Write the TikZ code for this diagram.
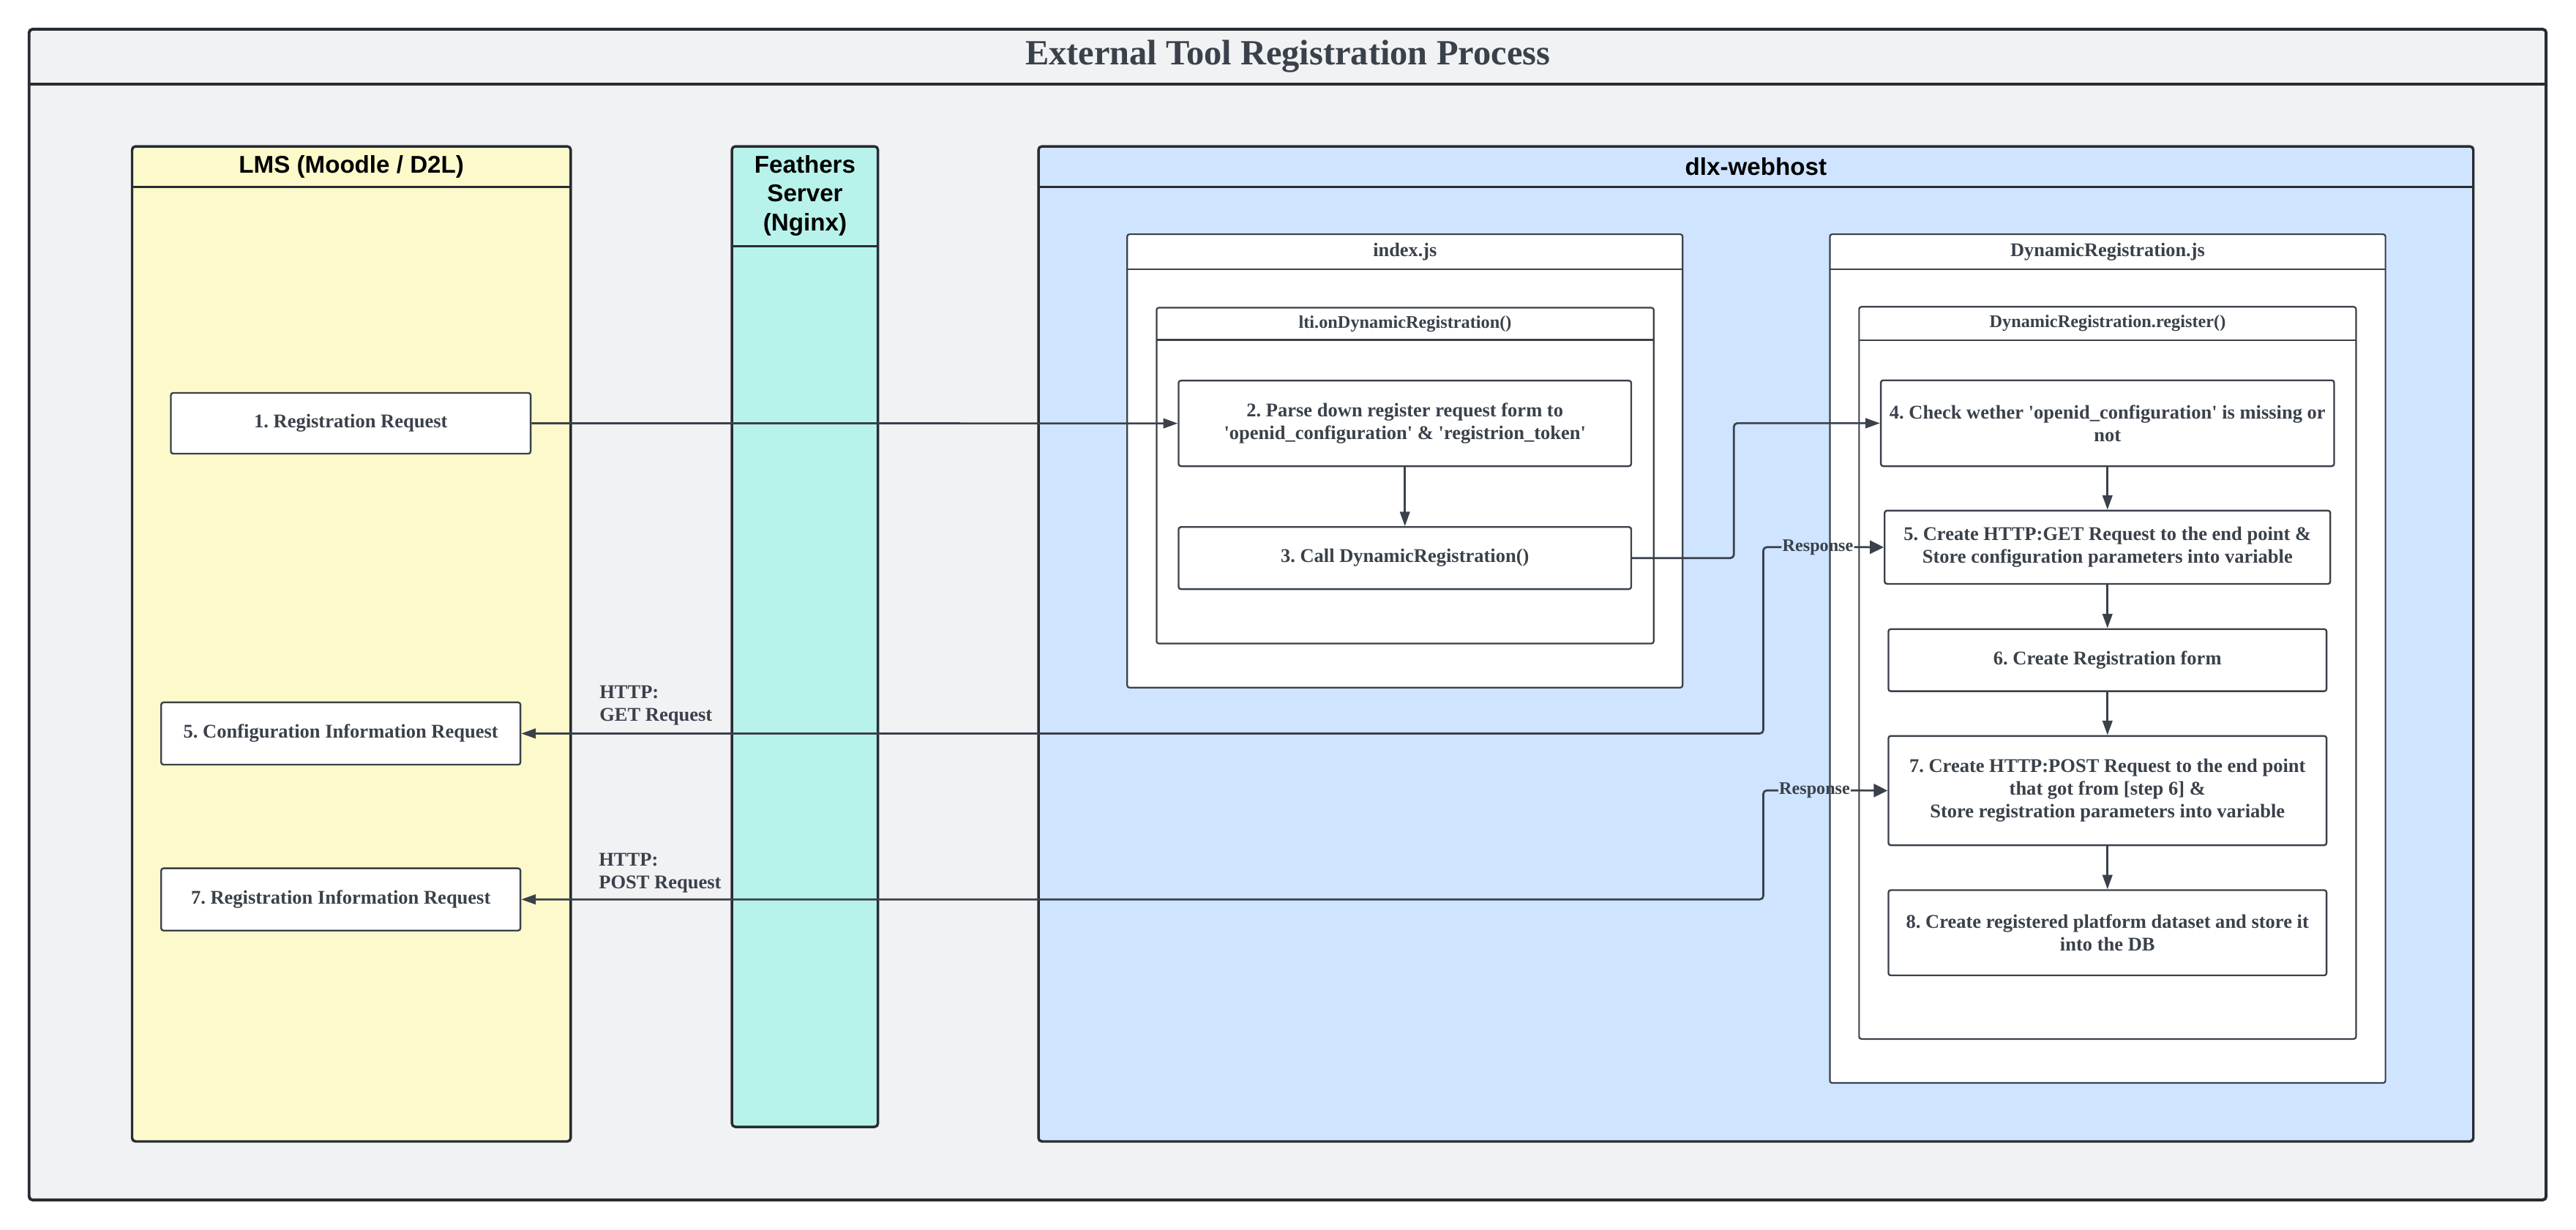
\documentclass[tikz,border=0pt]{standalone}
\usepackage{fontspec}
\setmainfont{Liberation Serif}[Ligatures=TeXOff]
\newfontfamily\lanefont{Liberation Sans}
\usetikzlibrary{arrows.meta, positioning}

\definecolor{edge}{HTML}{3A414A}
\definecolor{frameedge}{HTML}{282C33}
\definecolor{canvas}{HTML}{F1F2F4}
\definecolor{lmsfill}{HTML}{FCFACA}
\definecolor{nginxfill}{HTML}{B8F3EB}
\definecolor{hostfill}{HTML}{CFE4FF}

\begin{document}
\frenchspacing
\begin{tikzpicture}[
    x=0.05cm, y=0.05cm,
    frame/.style={draw=frameedge, line width=2.5pt, rounded corners=3pt},
    lane/.style={draw=frameedge, line width=2.2pt, rounded corners=3pt},
    file/.style={draw=edge, fill=white, line width=1.4pt, rounded corners=2pt},
    divider/.style={draw=edge, line width=1.4pt},
    lanetitle/.style={font=\lanefont\bfseries\fontsize{21}{25}\selectfont, align=center, text=black},
    filetitle/.style={font=\bfseries\fontsize{16.7}{20}\selectfont, text=edge},
    functitle/.style={font=\bfseries\fontsize{15.4}{19}\selectfont, text=edge},
    box/.style={
        rectangle,
        draw=edge,
        fill=white,
        rounded corners=2pt,
        line width=1.5pt,
        align=center,
        inner sep=0pt,
        text=edge,
        font=\bfseries\fontsize{16.8}{19.6}\selectfont
    },
    httplabel/.style={align=left, inner sep=0pt, text=edge, font=\bfseries\fontsize{16.8}{20}\selectfont},
    response/.style={inner sep=0.6pt, text=edge, font=\bfseries\fontsize{15.3}{19}\selectfont},
    arrow/.style={-{Triangle[length=12.5pt, width=8.5pt]}, draw=edge, line width=1.7pt, rounded corners=3pt},
    resparrow/.style={-{Triangle[length=12pt, width=11.5pt]}, draw=edge, line width=1.7pt}
]

\useasboundingbox (0,0) rectangle (1568,-748.4);

% outer frame
\draw[frame, fill=canvas] (17.7,-17.8) rectangle (1549.8,-730.5);
\draw[frame] (17.7,-51.2) -- (1549.8,-51.2);
\node[font=\bfseries\fontsize{30.7}{36}\selectfont, text=edge] (title) at (783.8,-34.3) {External Tool Registration Process};

% lanes
\draw[lane, fill=lmsfill] (80.4,-89.1) rectangle (347.4,-694.9);
\draw[lane] (80.4,-113.9) -- (347.4,-113.9);
\node[lanetitle] (lms) at (213.9,-101.5) {LMS (Moodle / D2L)};

\draw[lane, fill=nginxfill] (445.5,-89.1) rectangle (534.4,-686);
\draw[lane] (445.5,-150) -- (534.4,-150);
\node[lanetitle] (nginx) at (490,-119) {Feathers\\Server\\(Nginx)};

\draw[lane, fill=hostfill] (632.1,-89.1) rectangle (1505.5,-694.9);
\draw[lane] (632.1,-113.9) -- (1505.5,-113.9);
\node[lanetitle] (host) at (1068.8,-101.5) {dlx-webhost};

% files
\draw[file] (686.1,-142.6) rectangle (1024.2,-418.6);
\draw[divider] (686.1,-163.9) -- (1024.2,-163.9);
\node[filetitle] (indexjs) at (855.2,-153.3) {index.js};
\draw[file] (704,-187.3) rectangle (1006.6,-391.8);
\draw[divider] (704,-206.9) -- (1006.6,-206.9);
\node[functitle] (onreg) at (855.3,-197.1) {lti.onDynamicRegistration()};

\draw[file] (1113.8,-142.6) rectangle (1452,-659.3);
\draw[divider] (1113.8,-163.9) -- (1452,-163.9);
\node[filetitle] (dynjs) at (1282.9,-153.3) {DynamicRegistration.js};
\draw[file] (1131.6,-186.8) rectangle (1434.1,-632.5);
\draw[divider] (1131.6,-207) -- (1434.1,-207);
\node[functitle] (register) at (1282.9,-196.9) {DynamicRegistration.register()};

% LMS requests
\node[box, minimum width=10.95cm, minimum height=1.85cm] (reg) at (213.5,-257.7) {1. Registration Request};
\node[box, minimum width=10.935cm, minimum height=1.895cm] (cfgreq) at (207.45,-446.55) {5. Configuration Information Request};
\node[box, minimum width=10.935cm, minimum height=1.895cm] (regreq) at (207.45,-547.55) {7. Registration Information Request};

% index.js steps
\node[box, minimum width=13.775cm, minimum height=2.605cm] (parse) at (855.15,-257.75) {2. Parse down register request form to\\'openid\_configuration' \& 'registrion\_token'};
\node[box, below=1.8cm of parse, minimum width=13.775cm, minimum height=1.89cm] (call) {3. Call DynamicRegistration()};

% DynamicRegistration.js steps
\node[box, minimum width=13.795cm, minimum height=2.615cm] (check) at (1282.8,-257.65) {4. Check wether 'openid\_configuration' is missing or\\not};
\node[box, below=1.3cm of check, minimum width=13.565cm, minimum height=2.23cm] (getcfg) {5. Create HTTP:GET Request to the end point \&\\Store configuration parameters into variable};
\node[box, below=1.325cm of getcfg, minimum width=13.335cm, minimum height=1.89cm] (regform) {6. Create Registration form};
\node[box, below=1.31cm of regform, minimum width=13.335cm, minimum height=3.325cm] (postreg) {7. Create HTTP:POST Request to the end point\\that got from [step 6] \&\\Store registration parameters into variable};
\node[box, below=1.315cm of postreg, minimum width=13.335cm, minimum height=2.595cm] (savedb) {8. Create registered platform dataset and store it\\into the DB};

% connector labels
\coordinate (callx) at (1055.4,0);
\coordinate (respx) at (1073.3,0);
\node[response] (resp1) at (1106.5,-333.1) {Response};
\node[response] (resp2) at (1104.5,-481.2) {Response};
\node[httplabel, anchor=west] (getlbl) at (364.8,-429.5) {HTTP:\\GET Request};
\node[httplabel, anchor=west] (postlbl) at (364.4,-531.5) {HTTP:\\POST Request};

\draw[arrow] (reg.east) -- (parse.west);
\draw[arrow] (parse) -- (call);
\draw[arrow] (call.east) -- (callx |- call.east) -- (callx |- check.west) -- (check.west);
\draw[arrow] (check) -- (getcfg);
\draw[arrow] (getcfg) -- (regform);
\draw[arrow] (regform) -- (postreg);
\draw[arrow] (postreg) -- (savedb);

\draw[arrow] (resp1.west) -- (respx |- resp1.west) -- (respx |- cfgreq.east) -- (cfgreq.east);
\draw[resparrow] (resp1.east) -- (getcfg.west);
\draw[arrow] (resp2.west) -- (respx |- resp2.west) -- (respx |- regreq.east) -- (regreq.east);
\draw[resparrow] (resp2.east) -- (postreg.west);

\end{tikzpicture}
\end{document}
